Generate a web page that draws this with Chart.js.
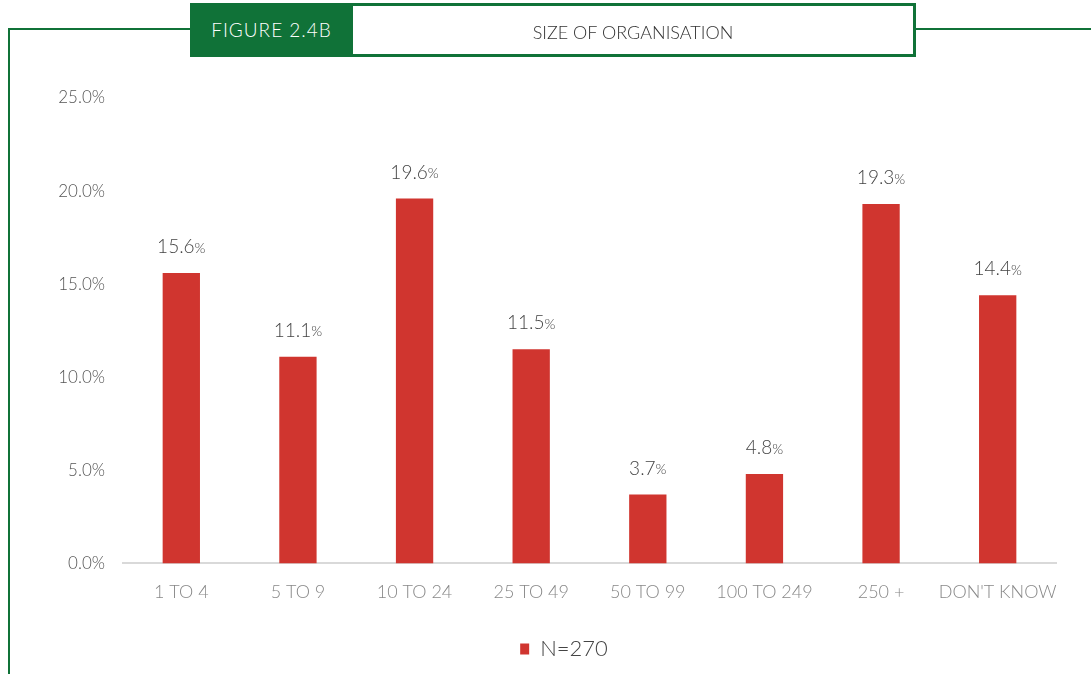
<!DOCTYPE html>
<html>
<head>
<meta charset="utf-8">
<script src="https://cdn.jsdelivr.net/npm/chart.js@4.4.1/dist/chart.umd.min.js"></script>
<style>
  html, body { margin: 0; padding: 0; background: #fff; }
  #wrap { position: relative; width: 1091px; height: 674px; overflow: hidden; font-family: Lato, "Open Sans", sans-serif; }
  #graficoCarte { position: absolute; left: 0; top: 0; }
  .linea { position: absolute; background: #107238; }
  #fig { position: absolute; left: 190px; top: 3px; width: 163px; height: 54px; background: #107238; color: #fff;
         font-size: 19px; font-weight: 300; letter-spacing: 1px; line-height: 54px; text-align: center; }
  #titolo { position: absolute; left: 353px; top: 3px; width: 560px; height: 48px; border: 3px solid #107238; border-left: none;
            color: #333; font-size: 18px; font-weight: 300; line-height: 52px; text-align: center; }
</style>
</head>
<body>
<div id="wrap">
  <canvas id="graficoCarte" width="1091" height="674"></canvas>
  <div class="linea" style="left:8px;top:28px;width:182px;height:2px"></div>
  <div class="linea" style="left:916px;top:28px;width:175px;height:2px"></div>
  <div class="linea" style="left:8px;top:28px;width:2px;height:646px"></div>
  <div id="fig">FIGURE 2.4B</div>
  <div id="titolo">SIZE OF ORGANISATION</div>
</div>
<script>
const categorie = ["1 TO 4", "5 TO 9", "10 TO 24", "25 TO 49", "50 TO 99", "100 TO 249", "250 +", "DON'T KNOW"];
const valori = [15.6, 11.1, 19.6, 11.5, 3.7, 4.8, 19.3, 14.4];
const etichettaSerie = "N=270";
const tickY = [0, 5, 10, 15, 20, 25];

const rosso = "#d0352f";

// Etichette dei valori sopra le barre
const etichetteValori = {
    id: 'etichetteValori',
    afterDatasetsDraw(chart) {
        const ctx = chart.ctx;
        const meta = chart.getDatasetMeta(0);
        ctx.save();
        ctx.fillStyle = "#444";
        ctx.textBaseline = "middle";
        meta.data.forEach((barra, i) => {
            const num = valori[i].toFixed(1);
            ctx.font = "300 19px Lato, sans-serif";
            const w1 = ctx.measureText(num).width;
            ctx.font = "300 14px Lato, sans-serif";
            const w2 = ctx.measureText("%").width;
            const x0 = barra.x - (w1 + w2) / 2;
            const y = barra.y - 26;
            ctx.font = "300 19px Lato, sans-serif";
            ctx.textAlign = "left";
            ctx.fillText(num, x0, y);
            ctx.font = "300 14px Lato, sans-serif";
            ctx.fillText("%", x0 + w1, y + 1);
        });
        ctx.restore();
    }
};

// Sposta la legenda un po' a destra, come nell'originale
const spostaLegenda = {
    id: 'spostaLegenda',
    afterLayout(chart) {
        chart.legend.left += 36;
        chart.legend.right += 36;
    }
};

const ctx = document.getElementById('graficoCarte').getContext('2d');
const grafico = new Chart(ctx, {
    type: 'bar',
    data: {
        labels: categorie,
        datasets: [{
            label: etichettaSerie,
            data: valori,
            backgroundColor: rosso,
            borderWidth: 0,
            barPercentage: 0.32,
            categoryPercentage: 1
        }]
    },
    options: {
        responsive: false,
        animation: false,
        layout: { padding: { left: 0, right: 35, top: 98, bottom: 4 } },
        plugins: {
            legend: {
                position: 'bottom',
                labels: {
                    boxWidth: 9,
                    boxHeight: 11,
                    padding: 6,
                    color: "#444",
                    font: { family: "Lato, sans-serif", size: 22, weight: 300 }
                }
            },
            tooltip: { enabled: false }
        },
        scales: {
            y: {
                min: 0,
                max: 25,
                afterFit(scale) { scale.width = 123; },
                afterBuildTicks(scale) { scale.ticks = tickY.map(v => ({ value: v })); },
                grid: { display: false },
                border: { display: false },
                ticks: {
                    padding: 10,
                    color: "#555",
                    font: { family: "Lato, sans-serif", size: 17, weight: 300 },
                    callback: v => v.toFixed(1) + "%"
                }
            },
            x: {
                afterFit(scale) { scale.height += 19; },
                grid: { display: false },
                border: { color: "#d9d9d9", width: 2 },
                ticks: {
                    padding: 10,
                    color: "#888",
                    maxRotation: 0,
                    autoSkip: false,
                    font: { family: "Lato, sans-serif", size: 18, weight: 300 }
                }
            }
        }
    },
    plugins: [etichetteValori, spostaLegenda]
});
</script>
</body>
</html>
